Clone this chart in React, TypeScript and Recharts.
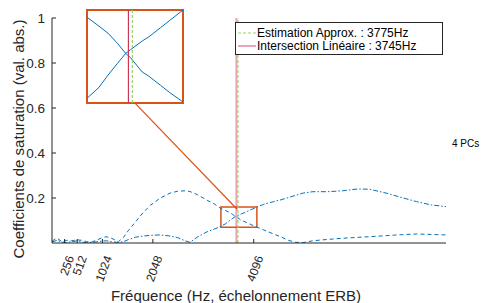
import React from 'react';
import { LineChart, Line, XAxis, YAxis, ReferenceLine, ReferenceArea } from 'recharts';

const freqs = [0, 100, 200, 300, 400, 500, 600, 700, 800, 900, 1000, 1100, 1200, 1350, 1450, 1550, 1700, 1850, 2000, 2200, 2400, 2550, 2700, 2800, 2950, 3150, 3300, 3430, 3520, 3590, 3660, 3724, 3760, 3850, 3900, 3990, 4060, 4160, 4300, 4500, 4650, 4800, 4950, 5100, 5300, 5600, 5900, 6200, 6450, 6800, 7100, 7400, 7700, 8000];
const seriesA = [0.008, 0.022, 0.006, 0.012, 0.01, 0.014, 0.012, 0.006, 0.004, 0.012, 0.022, 0.028, 0.022, 0.006, 0.025, 0.055, 0.095, 0.135, 0.168, 0.2, 0.222, 0.23, 0.232, 0.229, 0.215, 0.19, 0.173, 0.153, 0.1445, 0.1375, 0.128, 0.118, 0.114, 0.1, 0.096, 0.087, 0.08, 0.071, 0.058, 0.04, 0.027, 0.012, 0.003, 0.002, 0.01, 0.016, 0.021, 0.025, 0.028, 0.033, 0.037, 0.04, 0.038, 0.036];
const seriesB = [0.004, 0.012, 0.004, 0.002, 0.006, 0.009, 0.004, 0.002, 0.003, 0.005, 0.008, 0.01, 0.006, 0.002, 0.006, 0.015, 0.026, 0.031, 0.034, 0.036, 0.031, 0.024, 0.01, 0.003, 0.026, 0.05, 0.062, 0.0745, 0.085, 0.097, 0.108, 0.118, 0.1215, 0.13, 0.134, 0.143, 0.15, 0.16, 0.172, 0.184, 0.192, 0.202, 0.212, 0.222, 0.228, 0.228, 0.232, 0.24, 0.239, 0.221, 0.202, 0.184, 0.169, 0.162];

const xTicks = [256, 512, 1024, 2048, 4096];
const yTicks = [0.2, 0.4, 0.6, 0.8, 1];
const xDomain = [0, 8000];
const yDomain = [0, 1];
const estimFreq = 3775;
const interFreq = 3745;
const zoomX = [3430, 4160];
const zoomY = [0.07, 0.16];
const connector = [{ x: 1685, y: 0.622 }, { x: 3760, y: 0.15 }];

const legendLabels = ['Estimation Approx. : 3775Hz', 'Intersection Linéaire : 3745Hz'];
const xLabel = 'Fréquence (Hz, échelonnement ERB)';
const yLabel = 'Coefficients de saturation (val. abs.)';
const sideNote = '4 PCs';

const data = freqs.map((f, i) => ({ f, a: seriesA[i], b: seriesB[i] }));

const FONT = '"Liberation Sans", Arial, Helvetica, sans-serif';
const AX = '#262626';
const BLUE = '#0072BD';
const ORANGE = '#D95319';
const RED = '#C8385A';
const GREEN = '#9CD35A';

const XTick = (props: any) => {
  const { x, y, payload } = props;
  const tx = x + 6;
  const ty = y + 13;
  return (
    <g>
      <line x1={x} y1={y} x2={x} y2={y - 4} stroke={AX} strokeWidth={1} />
      <text x={tx} y={ty} transform={`rotate(-70 ${tx} ${ty})`} textAnchor="end" dominantBaseline="central" fontSize={12} fontFamily={FONT} fill={AX}>
        {payload.value}
      </text>
    </g>
  );
};

const YTick = (props: any) => {
  const { x, y, payload } = props;
  return (
    <g>
      <line x1={x} y1={y} x2={x + 4} y2={y} stroke={AX} strokeWidth={1} />
      <text x={x - 7} y={y} textAnchor="end" dominantBaseline="central" fontSize={13.5} fontFamily={FONT} fill={AX}>
        {String(payload.value)}
      </text>
    </g>
  );
};

export default function App() {
  return (
    <div style={{ position: 'absolute', left: 0, top: 0, width: 483, height: 303, background: '#fff', fontFamily: FONT }}>
      <LineChart width={483} height={303} data={data} margin={{ top: 18, right: 37, bottom: 0, left: 0 }}>
        <XAxis dataKey="f" type="number" domain={xDomain} ticks={xTicks} interval={0} height={60} tickSize={0} tickMargin={0} tickLine={false} axisLine={{ stroke: AX, strokeWidth: 1 }} tick={<XTick />} />
        <YAxis type="number" domain={yDomain} ticks={yTicks} interval={0} width={52} tickSize={0} tickMargin={0} tickLine={false} axisLine={{ stroke: AX, strokeWidth: 1 }} tick={<YTick />} />
        <Line dataKey="a" type="linear" stroke={BLUE} strokeWidth={1} strokeDasharray="4 3" dot={false} isAnimationActive={false} />
        <Line dataKey="b" type="linear" stroke={BLUE} strokeWidth={1} strokeDasharray="5 2 1.5 2" dot={false} isAnimationActive={false} />
        <ReferenceLine x={interFreq} stroke={RED} strokeOpacity={0.45} strokeWidth={2} />
        <ReferenceLine x={estimFreq} stroke={GREEN} strokeWidth={1.2} strokeDasharray="3 2" />
        <ReferenceArea x1={zoomX[0]} x2={zoomX[1]} y1={zoomY[0]} y2={zoomY[1]} fill="none" stroke={ORANGE} strokeWidth={1.5} fillOpacity={0} />
        <ReferenceLine segment={connector} stroke={ORANGE} strokeWidth={1.2} ifOverflow="visible" />
      </LineChart>

      <svg width={483} height={303} style={{ position: 'absolute', left: 0, top: 0, pointerEvents: 'none' }}>
        <text x={18} y={139} transform="rotate(-90 18 139)" textAnchor="middle" dominantBaseline="central" fontSize={15} fontFamily={FONT} fill={AX}>{yLabel}</text>
        <text x={236} y={301} textAnchor="middle" fontSize={15} fontFamily={FONT} fill={AX}>{xLabel}</text>
        <text x={452} y={143} dominantBaseline="central" fontSize={10} fontFamily={FONT} fill="#000">{sideNote}</text>
      </svg>

      <div style={{ position: 'absolute', left: 86, top: 9, background: '#fff' }}>
        <LineChart width={98} height={95} data={data} margin={{ top: 1, right: 1, bottom: 1, left: 1 }}>
          <XAxis dataKey="f" type="number" domain={zoomX} allowDataOverflow hide />
          <YAxis type="number" domain={zoomY} allowDataOverflow hide width={0} />
          <Line dataKey="a" type="linear" stroke={BLUE} strokeWidth={1} dot={false} isAnimationActive={false} />
          <Line dataKey="b" type="linear" stroke={BLUE} strokeWidth={1} dot={false} isAnimationActive={false} />
          <ReferenceLine x={interFreq} stroke={RED} strokeWidth={1.2} />
          <ReferenceLine x={estimFreq} stroke={GREEN} strokeWidth={1.2} strokeDasharray="3 2" />
          <ReferenceArea x1={zoomX[0]} x2={zoomX[1]} y1={zoomY[0]} y2={zoomY[1]} fill="none" fillOpacity={0} stroke={ORANGE} strokeWidth={2} ifOverflow="visible" />
        </LineChart>
      </div>

      <div style={{ position: 'absolute', left: 235, top: 22, width: 206, height: 31, background: '#fff', border: `1px solid ${AX}`, fontFamily: FONT, fontSize: 12, color: '#000' }}>
        <svg width={206} height={31} style={{ position: 'absolute', left: 0, top: 0 }}>
          <line x1={2} y1={10} x2={20} y2={10} stroke={GREEN} strokeWidth={1.2} strokeDasharray="3 2" />
          <line x1={2} y1={23} x2={20} y2={23} stroke={RED} strokeOpacity={0.6} strokeWidth={1.5} />
          <text x={21} y={10} dominantBaseline="central" fontSize={12} fontFamily={FONT} fill="#000">{legendLabels[0]}</text>
          <text x={21} y={23} dominantBaseline="central" fontSize={12} fontFamily={FONT} fill="#000">{legendLabels[1]}</text>
        </svg>
      </div>
    </div>
  );
}
